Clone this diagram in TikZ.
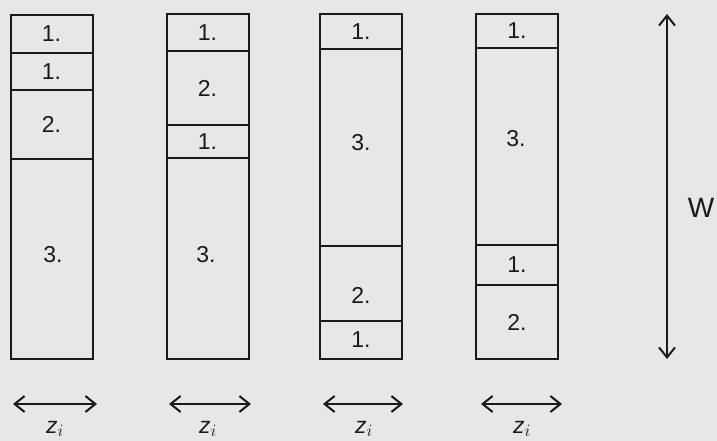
\documentclass[tikz,border=0pt]{standalone}
\usepackage{fontspec}
\setmainfont{Liberation Sans}
\usetikzlibrary{arrows.meta}
\definecolor{paper}{HTML}{E6E7E6}
\definecolor{ink}{HTML}{1A1A1A}
\begin{document}
\begin{tikzpicture}[x=1pt,y=-1pt,
  cell/.style={draw=ink, line width=2pt, minimum width=82pt, inner sep=0pt, outer sep=0pt,
    font=\fontsize{23}{27}\selectfont, text=ink},
  num/.style={text=ink, font=\fontsize{23}{27}\selectfont},
  dim/.style={draw=ink, line width=2pt, {Straight Barb[length=10pt,width=16pt]}-{Straight Barb[length=10pt,width=16pt]}},
  lbl/.style={text=ink, font=\fontsize{23}{27}\selectfont\itshape}]
\fill[paper] (0,0) rectangle (717,441);
\useasboundingbox (0,0) rectangle (717,441);
% column 1
\node[cell, minimum height=38pt]  (a1) at (51.5,34)  {1.};
\node[cell, minimum height=37pt]  (a2) at (51.5,71.5) {1.};
\node[cell, minimum height=69pt]  (a3) at (51.5,124.5) {2.};
\node[cell, minimum height=200pt] (a4) at (51.5,259) {};
\node[num] at (53,255) {3.};
% column 2
\node[cell, minimum height=37pt]  (b1) at (207.5,32.5) {1.};
\node[cell, minimum height=74pt]  (b2) at (207.5,88)  {2.};
\node[cell, minimum height=33pt]  (b3) at (207.5,141.5) {1.};
\node[cell, minimum height=201pt] (b4) at (207.5,258.5) {};
\node[num] at (206,255) {3.};
% column 3
\node[cell, minimum height=35pt]  (c1) at (361,31.5)  {1.};
\node[cell, minimum height=197pt] (c2) at (361,147.5) {};
\node[num] at (361,143) {3.};
\node[cell, minimum height=75pt]  (c3) at (361,283.5) {};
\node[num] at (361,295) {2.};
\node[cell, minimum height=38pt]  (c4) at (361,340)   {1.};
% column 4
\node[cell, minimum height=34pt]  (d1) at (517,31)    {1.};
\node[cell, minimum height=197pt] (d2) at (517,146.5) {};
\node[num] at (516,139) {3.};
\node[cell, minimum height=40pt]  (d3) at (517,265)   {1.};
\node[cell, minimum height=74pt]  (d4) at (517,322)   {2.};
% width arrows
\coordinate (wa1) at (13,404); \coordinate (wa2) at (97,404);
\coordinate (wb1) at (169,404); \coordinate (wb2) at (251,404);
\coordinate (wc1) at (323,404); \coordinate (wc2) at (403,404);
\coordinate (wd1) at (481,404); \coordinate (wd2) at (562,404);
\draw[dim] (wa1) -- (wa2);
\draw[dim] (wb1) -- (wb2);
\draw[dim] (wc1) -- (wc2);
\draw[dim] (wd1) -- (wd2);
\node[lbl] (za) at (55,429) {z$_i$};
\node[lbl] (zb) at (208,429) {z$_i$};
\node[lbl] (zc) at (364,429) {z$_i$};
\node[lbl] (zd) at (522,429) {z$_i$};
% W arrow
\coordinate (wt) at (667,14); \coordinate (wbm) at (667,359);
\draw[dim] (wt) -- (wbm);
\node[text=ink, font=\fontsize{28}{32}\selectfont] (W) at (701,208) {W};
\end{tikzpicture}
\end{document}
